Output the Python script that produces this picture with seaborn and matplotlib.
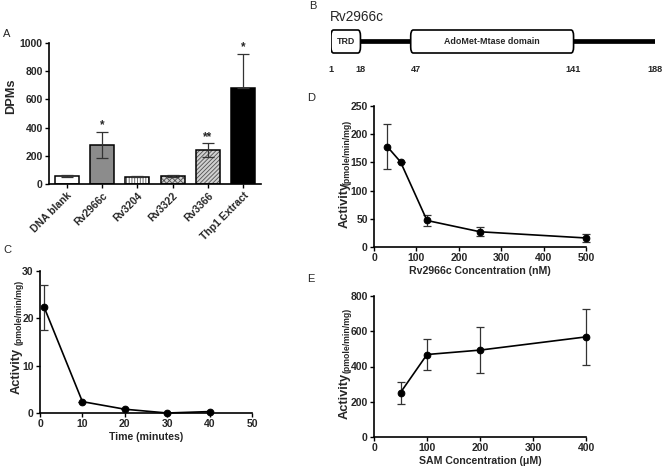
import matplotlib
matplotlib.use('Agg')
import matplotlib.pyplot as plt
import seaborn as sns
from matplotlib.patches import FancyBboxPatch
from matplotlib.colors import to_rgba

sns.set_theme(style='ticks')
plt.rcParams['font.family'] = ['Liberation Sans', 'DejaVu Sans']
plt.rcParams['font.weight'] = 'bold'
plt.rcParams['axes.linewidth'] = 1.2
plt.rcParams['hatch.linewidth'] = 0.6

# ---- data ----
bar_labels = ["DNA blank", "Rv2966c", "Rv3204", "Rv3322", "Rv3366", "Thp1 Extract"]
bar_values = [57, 277, 53, 57, 238, 679]
bar_err_low = [9, 95, 5, 8, 50, 0]
bar_err_high = [9, 95, 5, 8, 50, 243]
bar_stars = ["", "*", "", "", "**", "*"]
bar_colors = ["white", "#8c8c8c", "white", "#d0d0d0", "#d0d0d0", "black"]
bar_hatches = [None, None, "||||||", "xxxxxx", "////////", None]

time_min = [1, 10, 20, 30, 40]
time_act = [22.3, 2.4, 0.8, 0.0, 0.3]
time_err = [4.7, 0, 0, 0, 0]

conc_nM = [31.25, 62.5, 125, 250, 500]
conc_act = [178, 151, 47, 27, 16]
conc_err = [40, 0, 9, 8, 7]

sam_uM = [50, 100, 200, 400]
sam_act = [252, 468, 493, 568]
sam_err = [62, 90, 132, 157]

domains = [("TRD", 1, 18), ("AdoMet-Mtase domain", 47, 141)]
residue_ticks = [1, 18, 47, 141, 188]
protein_len = 188

W, H = 664, 472
fig = plt.figure(figsize=(W / 100, H / 100), dpi=100)

def px_axes(x0, y0, x1, y1):
    return fig.add_axes([x0 / W, 1 - y1 / H, (x1 - x0) / W, (y1 - y0) / H])

TICK_FS = 7.5
LAB_FS = 7.6

def style(ax):
    sns.despine(ax=ax)
    ax.tick_params(axis='both', length=3, width=1.0, labelsize=TICK_FS, pad=1.5, color='black')
    for lab in ax.get_xticklabels() + ax.get_yticklabels():
        lab.set_fontweight('bold')
    for s in ax.spines.values():
        s.set_linewidth(1.2)
        s.set_color('black')

# ---- Panel A ----
axA = px_axes(49, 43, 261, 184)
sns.barplot(x=bar_labels, y=bar_values, hue=bar_labels, palette=bar_colors, legend=False,
            width=0.68, edgecolor='black', linewidth=1.1, saturation=1, ax=axA)
for p, h in zip(axA.patches, bar_hatches):
    if h:
        p.set_hatch(h)
        p._hatch_color = to_rgba('#505050')
xs = list(range(len(bar_labels)))
axA.errorbar(xs, bar_values, yerr=[bar_err_low, bar_err_high], fmt='none', ecolor='#333333',
             elinewidth=0.9, capsize=4.5, capthick=0.9, zorder=5)
for x, v, e, s in zip(xs, bar_values, bar_err_high, bar_stars):
    if s:
        axA.text(x, v + e + 5, s, ha='center', va='bottom', fontsize=8.5, fontweight='bold')
axA.set_ylim(0, 1000)
axA.set_xlim(-0.5, 5.5)
axA.set_yticks([0, 200, 400, 600, 800, 1000])
axA.set_ylabel("DPMs", fontsize=9.2, fontweight='bold')
axA.yaxis.set_label_coords(-0.15, 0.62)
style(axA)
axA.set_xticks(xs)
axA.set_xticklabels(bar_labels, rotation=45, ha='right', rotation_mode='anchor',
                    fontsize=TICK_FS, fontweight='bold')

def line_panel(ax, x, y, err, xlim, ylim, xticks, yticks, xlabel):
    sns.lineplot(x=x, y=y, color='black', linewidth=1.2, marker='o', markersize=4.8,
                 markeredgecolor='black', ax=ax, zorder=4)
    ax.errorbar(x, y, yerr=err, fmt='none', ecolor='#333333', elinewidth=0.9,
                capsize=3, capthick=0.9, zorder=3)
    ax.set_xlim(*xlim)
    ax.set_ylim(*ylim)
    ax.set_xticks(xticks)
    ax.set_yticks(yticks)
    ax.set_xlabel(xlabel, fontsize=LAB_FS, fontweight='bold', labelpad=2)
    ax.set_ylabel("")
    for c in list(ax.lines) + list(ax.collections):
        c.set_clip_on(False)
    style(ax)

def ylabel_parts(xpix, ybottom_pix, ysplit_pix):
    fig.text(xpix / W, 1 - ybottom_pix / H, "Activity", rotation=90, ha='center', va='bottom',
             fontsize=9.3, fontweight='bold')
    fig.text((xpix + 2) / W, 1 - ysplit_pix / H, "(pmole/min/mg)", rotation=90, ha='center',
             va='bottom', fontsize=6.3, fontweight='bold')

# ---- Panel C ----
axC = px_axes(40, 271, 252, 413)
line_panel(axC, time_min, time_act, time_err, (0, 50), (0, 30), [0, 10, 20, 30, 40, 50],
           [0, 10, 20, 30], "Time (minutes)")
ylabel_parts(17, 394, 345)

# ---- Panel D ----
axD = px_axes(374, 106, 586, 247)
line_panel(axD, conc_nM, conc_act, conc_err, (0, 500), (0, 250), [0, 100, 200, 300, 400, 500],
           [0, 50, 100, 150, 200, 250], "Rv2966c Concentration (nM)")
ylabel_parts(345, 228, 185)

# ---- Panel E ----
axE = px_axes(374, 296, 586, 437)
line_panel(axE, sam_uM, sam_act, sam_err, (0, 400), (0, 800), [0, 100, 200, 300, 400],
           [0, 200, 400, 600, 800], "SAM Concentration (\u03bcM)")
ylabel_parts(345, 419, 373)

# ---- Panel B ----
axB = px_axes(331, 20, 655, 80)
axB.set_xlim(1, protein_len)
axB.set_ylim(80, 20)
axB.axis('off')
axB.plot([domains[0][2], protein_len], [41, 41], color='black', linewidth=3.4,
         solid_capstyle='butt', zorder=1)
for name, s, e in domains:
    box = FancyBboxPatch((s, 30), e - s, 23, boxstyle="round,pad=0,rounding_size=1.5",
                         mutation_aspect=4, facecolor='white', edgecolor='black', linewidth=1.2,
                         zorder=2)
    axB.add_patch(box)
    axB.text((s + e) / 2, 41.5, name, ha='center', va='center', fontsize=6.4, fontweight='bold',
             zorder=3)
for r in residue_ticks:
    ha = 'left' if r == 47 else 'center'
    axB.text(r, 70, str(r), ha=ha, va='center', fontsize=6.6, fontweight='bold')
fig.text(330 / W, 1 - 17 / H, "Rv2966c", ha='left', va='center', fontsize=9.8, fontweight='normal')

# ---- panel letters ----
for letter, x, y in [("A", 3, 29), ("B", 309, 1), ("C", 3, 245), ("D", 307, 93), ("E", 307, 274)]:
    fig.text(x / W, 1 - y / H, letter, ha='left', va='top', fontsize=8, fontweight='normal')

fig.savefig("out.png", dpi=100)
